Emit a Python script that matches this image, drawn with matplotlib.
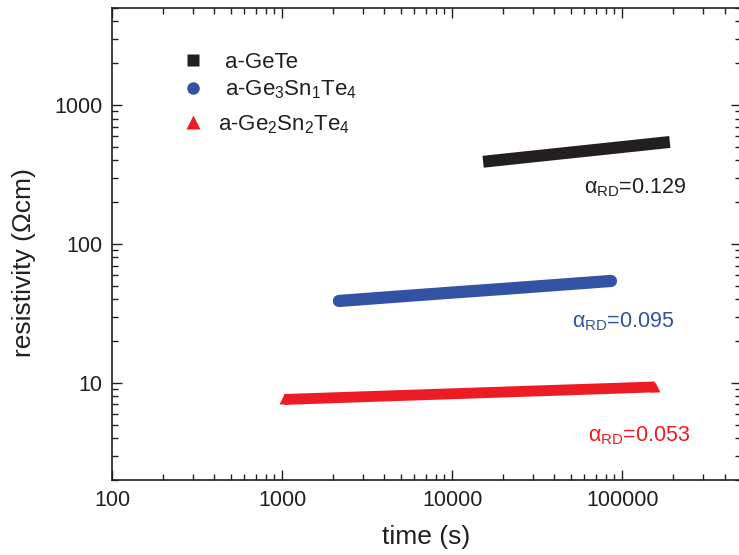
import matplotlib
matplotlib.use("Agg")
import matplotlib.pyplot as plt
from matplotlib.lines import Line2D

plt.rcParams['font.family'] = ['Liberation Sans', 'DejaVu Sans']
plt.rcParams['mathtext.fontset'] = 'custom'
plt.rcParams['mathtext.rm'] = 'Liberation Sans'
plt.rcParams['mathtext.it'] = 'Liberation Sans:italic'
plt.rcParams['mathtext.default'] = 'regular'

# ---- data ----
t_gete = [16500, 30000, 60000, 100000, 176000]
r_gete = [395, 427, 467, 499, 537]

t_g3s1 = [2160, 5000, 10000, 20000, 50000, 86000]
r_g3s1 = [38.9, 42.0, 44.7, 47.5, 51.6, 54.2]

t_g2s2 = [1030, 3000, 10000, 30000, 100000, 156000]
r_g2s2 = [7.6, 7.95, 8.35, 8.74, 9.18, 9.36]

labels = ['a-GeTe', 'a-Ge$_3$Sn$_1$Te$_4$', 'a-Ge$_2$Sn$_2$Te$_4$']
alpha_labels = ['0.129', '0.095', '0.053']
x_ticks = [100, 1000, 10000, 100000]
y_ticks = [10, 100, 1000]

c_black = '#231f20'
c_blue = '#3452a4'
c_red = '#ed1c24'
axc = '#231f20'

W, H = 739, 555
fig = plt.figure(figsize=(W / 100, H / 100), dpi=100)
L, R, T, B = 112, 741, 8, 480
ax = fig.add_axes([L / W, (H - B) / H, (R - L) / W, (B - T) / H])
ax.set_xscale('log')
ax.set_yscale('log')
ax.set_xlim(100, 5e5)
ax.set_ylim(2, 5000)

# bands
ax.plot(t_gete, r_gete, color=c_black, lw=8.6, solid_capstyle='projecting')
ax.plot(t_g3s1, r_g3s1, color=c_blue, lw=8.8, solid_capstyle='round')
ax.plot(t_g2s2, r_g2s2, color=c_red, lw=7.8, solid_capstyle='butt',
        marker='^', ms=7.8, markevery=[0, -1], mec='none')

# annotations
ax.text(60000, 253, 'α$_{RD}$=' + alpha_labels[0], color=c_black, fontsize=15.5,
        va='center', ha='left')
ax.text(50800, 27.5, 'α$_{RD}$=' + alpha_labels[1], color=c_blue, fontsize=15.5,
        va='center', ha='left')
ax.text(63000, 4.16, 'α$_{RD}$=' + alpha_labels[2], color=c_red, fontsize=15.5,
        va='center', ha='left')

# manual legend
def axx(px):
    return (px - L) / (R - L)

def axy(py):
    return (B - py) / (B - T)

ax.add_line(Line2D([axx(193)], [axy(60)], transform=ax.transAxes, marker='s',
                   ms=8, color=c_black, mec='none', ls='none'))
ax.add_line(Line2D([axx(193)], [axy(88)], transform=ax.transAxes, marker='o',
                   ms=9, color=c_blue, mec='none', ls='none'))
ax.add_line(Line2D([axx(193)], [axy(122)], transform=ax.transAxes, marker='^',
                   ms=10, color=c_red, mec='none', ls='none'))
ax.text(axx(225), axy(68), labels[0], transform=ax.transAxes, fontsize=16,
        color=axc, va='baseline', ha='left')
ax.text(axx(225), axy(95), labels[1], transform=ax.transAxes, fontsize=16,
        color=axc, va='baseline', ha='left')
ax.text(axx(218), axy(130), labels[2], transform=ax.transAxes, fontsize=16,
        color=axc, va='baseline', ha='left')

# axes styling
ax.set_xticks(x_ticks)
ax.set_xticklabels([str(v) for v in x_ticks])
ax.set_yticks(y_ticks)
ax.set_yticklabels([str(v) for v in y_ticks])
ax.tick_params(which='both', direction='in', top=True, right=True, color=axc,
               labelcolor=axc, labelsize=15.5, width=1.0)
ax.tick_params(which='major', length=7, pad=7)
ax.tick_params(which='minor', length=4)
for s in ax.spines.values():
    s.set_color(axc)
    s.set_linewidth(1.2)

ax.set_xlabel('time (s)', fontsize=19, color=axc, labelpad=10)
ax.set_ylabel('resistivity (Ωcm)', fontsize=19, color=axc)
ax.yaxis.set_label_coords(axx(36), axy(263))

fig.savefig('out.png', dpi=100)
